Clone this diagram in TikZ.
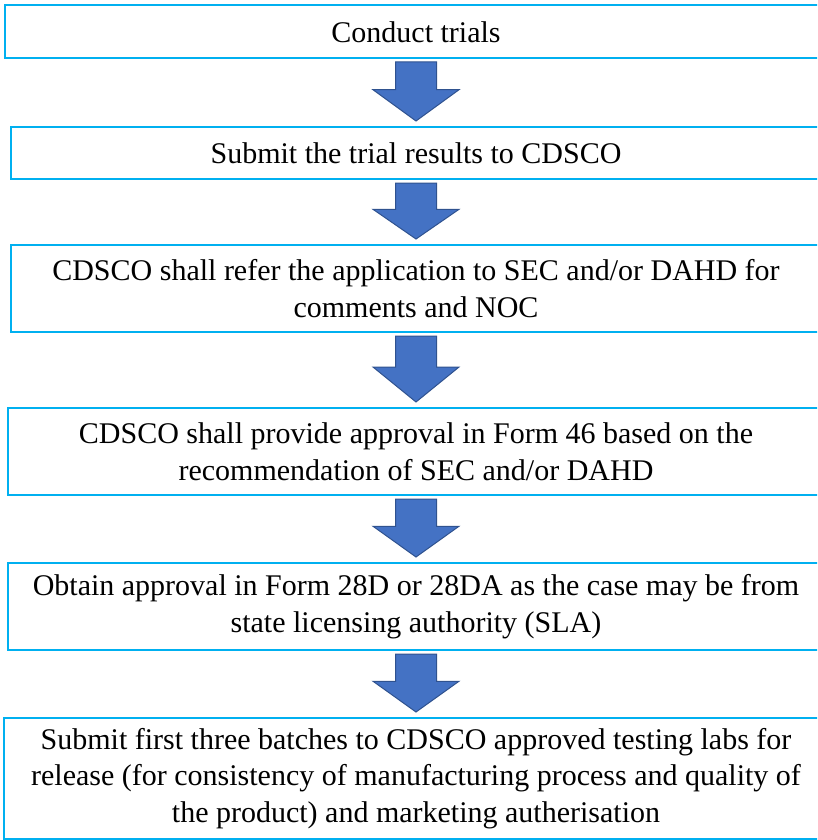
\documentclass[tikz,border=0pt]{standalone}
\usepackage{fontspec}
\setmainfont{Liberation Serif}
\usetikzlibrary{positioning, calc}
\definecolor{boxline}{HTML}{00B0F0}
\definecolor{arrowfill}{HTML}{4472C4}
\definecolor{arrowline}{HTML}{2F528F}

\newcommand{\flowarrow}[2]{%
  \path[blockarrow] let \p1=(#1.south), \p2=(#2.north), \n1={\y1-4pt}, \n2={\y2+6pt}, \n3={0.53*\n1+0.47*\n2} in
    (\x1-20.5pt,\n1) -- (\x1+20.5pt,\n1) -- (\x1+20.5pt,\n3) -- (\x1+43pt,\n3) -- (\x1,\n2)
    -- (\x1-43pt,\n3) -- (\x1-20.5pt,\n3) -- cycle;}

\begin{document}
\begin{tikzpicture}[
    x=1pt, y=1pt,
    flowbox/.style={draw=boxline, line width=2pt, fill=white, align=center, inner sep=0pt, outer sep=0pt,
      font=\fontsize{30}{36.5}\selectfont},
    blockarrow/.style={draw=arrowline, line width=1pt, fill=arrowfill, line join=miter}
]
\useasboundingbox (0,0) rectangle (817,-840);
\clip (0,0) rectangle (817,-840);

\node[flowbox, minimum width=822pt, minimum height=52.5pt, anchor=north] (trials) at (416,-5.5) {Conduct trials};
\node[flowbox, minimum width=810pt, minimum height=52pt, below=69pt of trials] (submit) {Submit the trial results to CDSCO};
\node[flowbox, minimum width=810pt, minimum height=87pt, below=66pt of submit] (refer) {CDSCO shall refer the application to SEC and/or DAHD for\\comments and NOC};
\node[flowbox, minimum width=816pt, minimum height=87pt, below=76pt of refer] (approval) {CDSCO shall provide approval in Form 46 based on the\\recommendation of SEC and/or DAHD};
\node[flowbox, minimum width=816pt, minimum height=87pt, below=68pt of approval] (sla) {Obtain approval in Form 28D or 28DA as the case may be from\\state licensing authority (SLA)};
\node[flowbox, minimum width=824pt, minimum height=121pt, below=68pt of sla] (release) {Submit first three batches to CDSCO approved testing labs for\\release (for consistency of manufacturing process and quality of\\the product) and marketing autherisation};

\flowarrow{trials}{submit}
\flowarrow{submit}{refer}
\flowarrow{refer}{approval}
\flowarrow{approval}{sla}
\flowarrow{sla}{release}
\end{tikzpicture}
\end{document}
